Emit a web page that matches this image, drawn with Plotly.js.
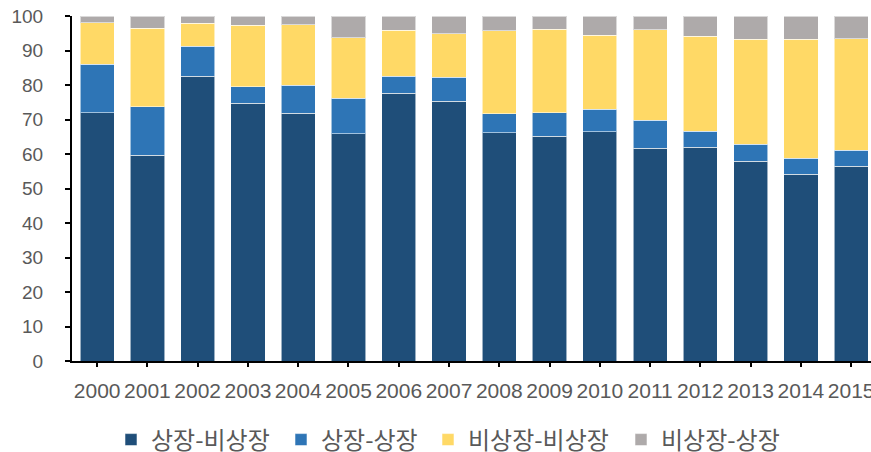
<!DOCTYPE html>
<html>
<head>
<meta charset="utf-8">
<script src="https://cdn.plot.ly/plotly-3.0.1.min.js"></script>
<style>
html,body{margin:0;padding:0;background:#fff;}
#chart{width:871px;height:452px;}
</style>
</head>
<body>
<div id="chart"></div>
<script>
var years = ['2000','2001','2002','2003','2004','2005','2006','2007','2008','2009','2010','2011','2012','2013','2014','2015'];
var listedToUnlisted   = [72.0, 59.7, 82.6, 74.7, 71.8, 65.9, 77.6, 75.3, 66.1, 65.1, 66.5, 61.7, 62.0, 57.9, 54.1, 56.5];
var listedToListed     = [14.0, 14.0,  8.6,  4.8,  8.1, 10.2,  5.0,  7.0,  5.6,  6.8,  6.4,  8.1,  4.6,  4.9,  4.6,  4.6];
var unlistedToUnlisted = [12.0, 22.8,  6.7, 17.8, 17.5, 17.6, 13.3, 12.5, 24.0, 24.2, 21.5, 26.2, 27.5, 30.4, 34.6, 32.3];
var unlistedToListed   = [ 2.0,  3.5,  2.1,  2.7,  2.6,  6.3,  4.1,  5.2,  4.3,  3.9,  5.6,  4.0,  5.9,  6.8,  6.7,  6.6];
var seriesNames = ['상장-비상장', '상장-상장', '비상장-비상장', '비상장-상장'];
var yTicks = [0,10,20,30,40,50,60,70,80,90,100];

var colors = ['#1F4E79', '#2E75B6', '#FFD966', '#AEAAAA'];
var seriesValues = [listedToUnlisted, listedToListed, unlistedToUnlisted, unlistedToListed];
var legendIds = ['legend', 'legend2', 'legend3', 'legend4'];
var squareLefts = [127, 297, 444, 637];
var legendBorder = 8;

var traces = seriesValues.map(function(vals, i){
  return {
    type: 'bar',
    name: seriesNames[i],
    x: years,
    y: vals,
    legend: legendIds[i],
    marker: {color: colors[i], line: {color: 'rgba(255,255,255,0.55)', width: 1}},
    hoverinfo: 'x+y+name'
  };
});

var legendFont = {family: '"Noto Sans CJK KR", "Noto Sans", sans-serif', size: 24, color: '#595959'};
function makeLegend(i){
  return {
    orientation: 'h',
    xref: 'container', yref: 'container',
    x: (squareLefts[i] - 2 - 14 - legendBorder) / 871,
    xanchor: 'left',
    y: 1 - 440 / 452,
    yanchor: 'middle',
    font: legendFont,
    bgcolor: 'rgba(0,0,0,0)',
    bordercolor: 'rgba(0,0,0,0)',
    borderwidth: legendBorder
  };
}

var layout = {
  width: 871,
  height: 452,
  margin: {l: 72, r: 0, t: 16, b: 91},
  paper_bgcolor: '#ffffff',
  plot_bgcolor: '#ffffff',
  barmode: 'stack',
  bargap: 0.32,
  showlegend: true,
  legend: makeLegend(0),
  legend2: makeLegend(1),
  legend3: makeLegend(2),
  legend4: makeLegend(3),
  xaxis: {
    type: 'category',
    range: [-0.5, 15.394],
    showline: true,
    linecolor: '#000000',
    linewidth: 2,
    ticks: 'outside',
    ticklen: 4,
    tickwidth: 2,
    tickcolor: '#000000',
    showgrid: false,
    zeroline: false,
    ticklabelstandoff: 6,
    tickfont: {family: '"Liberation Sans", Arial, sans-serif', size: 21, color: '#595959'},
    fixedrange: true
  },
  yaxis: {
    range: [0, 100],
    tickvals: yTicks,
    ticktext: yTicks.map(String),
    showline: true,
    linecolor: '#000000',
    linewidth: 2,
    ticks: 'outside',
    ticklen: 5,
    tickwidth: 2,
    tickcolor: '#000000',
    showgrid: false,
    zeroline: false,
    ticklabelstandoff: 18,
    tickfont: {family: '"Liberation Sans", Arial, sans-serif', size: 19, color: '#595959'},
    fixedrange: true
  }
};

Plotly.newPlot('chart', traces, layout, {displayModeBar: false, responsive: false});
</script>
</body>
</html>
